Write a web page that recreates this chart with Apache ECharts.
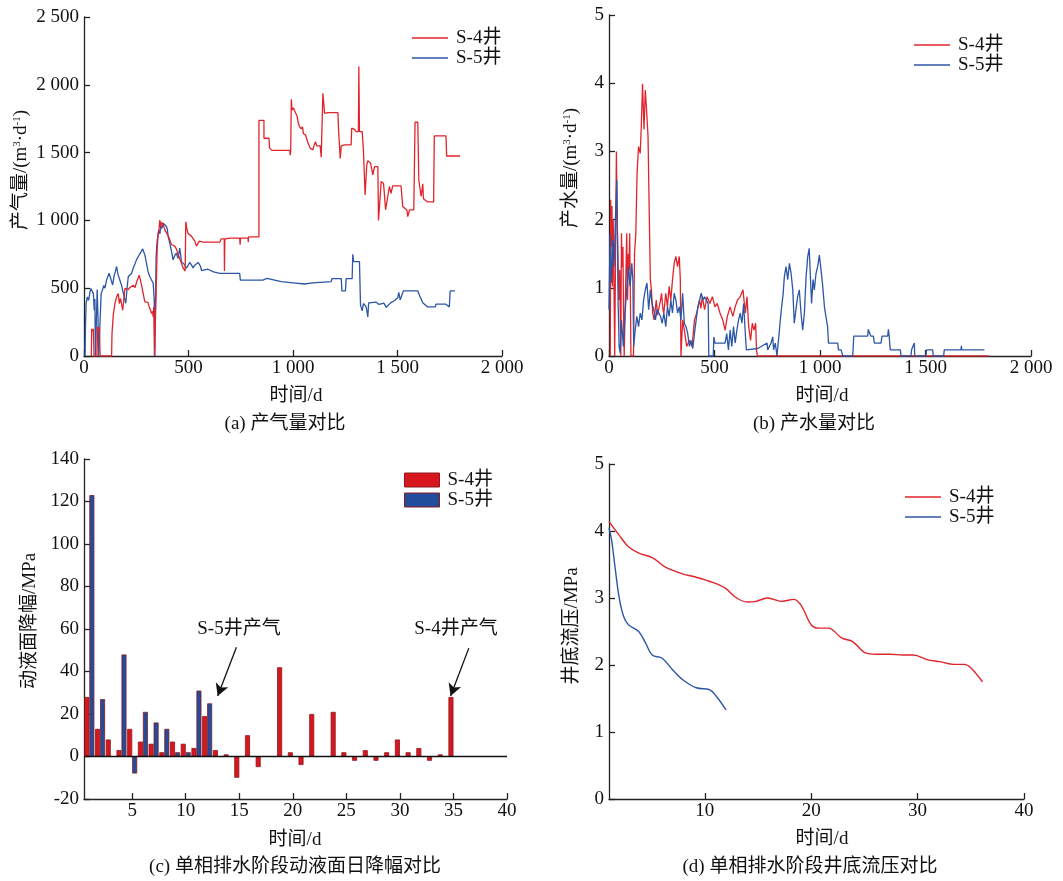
<!DOCTYPE html>
<html>
<head>
<meta charset="utf-8">
<title>S-4 / S-5 对比</title>
<script src="https://cdn.jsdelivr.net/npm/echarts@6/dist/echarts.min.js"></script>
<style>
  html, body { margin: 0; padding: 0; background: #fff; }
  #chart { width: 1063px; height: 881px; }
</style>
</head>
<body>
<div id="chart"></div>
<script>
// ---- data ----
const wellNames = ['S-4井', 'S-5井'];

// (a) 产气量, [day, m3/d]
const gasS4 = [
  [35, 0], [37, 200], [41, 185], [45, 200], [48, 0], [62, 0], [65, 215], [70, 190], [74, 210], [77, 0],
  [132, 0], [134, 165], [140, 300], [148, 387], [156, 436], [164, 460], [169, 387], [175, 424], [185, 337],
  [196, 499], [204, 510], [212, 490], [220, 505], [228, 500], [236, 522], [244, 505], [252, 547], [258, 570],
  [264, 596], [272, 547], [280, 485], [291, 399], [299, 387], [306, 395], [312, 362], [318, 340], [323, 313],
  [328, 330], [331, 288], [334, 362], [337, 0], [342, 0], [344, 400], [350, 781], [355, 900], [359, 941],
  [363, 1002], [367, 950], [371, 985], [379, 970], [387, 930], [395, 921], [403, 884], [410, 860], [418, 822],
  [426, 830], [434, 810], [442, 790], [450, 749], [458, 760], [466, 687], [474, 650], [479, 638], [484, 626],
  [487, 990], [492, 940], [498, 903], [506, 910], [514, 884], [522, 870], [530, 847], [538, 810], [545, 830],
  [552, 847], [560, 835], [570, 840], [600, 840], [650, 840], [657, 864], [671, 864], [672, 626], [674, 864],
  [700, 870], [745, 870], [747, 820], [749, 870], [785, 870], [786, 840], [787, 878], [837, 878],
  [837, 1737], [861, 1737], [861, 1606], [885, 1606], [888, 1533], [901, 1516], [933, 1516], [985, 1516],
  [987, 1480], [989, 1516], [992, 1894], [995, 1830], [997, 1815], [1003, 1830], [1007, 1810], [1013, 1790],
  [1019, 1773], [1025, 1720], [1031, 1692], [1039, 1675], [1045, 1690], [1050, 1640], [1060, 1630],
  [1070, 1580], [1082, 1533], [1095, 1520], [1100, 1550], [1108, 1581], [1113, 1550], [1130, 1550],
  [1135, 1466], [1140, 1466], [1143, 1938], [1148, 1850], [1151, 1790], [1167, 1795], [1215, 1795],
  [1218, 1667], [1226, 1457], [1231, 1550], [1246, 1557], [1278, 1557], [1281, 1680], [1294, 1672],
  [1302, 1655], [1313, 1655], [1315, 2135], [1318, 1655], [1331, 1655], [1337, 1516], [1345, 1187],
  [1350, 1187], [1353, 1410], [1358, 1441], [1371, 1422], [1382, 1336], [1390, 1397], [1406, 1397],
  [1409, 1000], [1418, 1000], [1422, 1286], [1433, 1274], [1437, 1200], [1443, 1078], [1450, 1078],
  [1461, 1250], [1469, 1200], [1477, 1254], [1517, 1254], [1525, 1102], [1545, 1077], [1549, 1028],
  [1555, 1060], [1557, 1077], [1578, 1077], [1584, 1724], [1597, 1724], [1602, 1298], [1613, 1176],
  [1621, 1270], [1624, 1160], [1644, 1136], [1673, 1136], [1676, 1623], [1732, 1623], [1735, 1475],
  [1799, 1475]
];
const gasS5 = [
  [5, 0], [7, 214], [10, 387], [16, 436], [22, 411], [29, 473], [33, 498], [37, 498], [41, 485], [45, 460],
  [49, 337], [52, 420], [55, 0], [60, 0], [63, 490], [67, 280], [70, 0], [74, 0], [78, 300], [82, 460],
  [88, 487], [95, 520], [100, 500], [108, 560], [116, 549], [120, 610], [124, 598], [130, 560], [137, 524],
  [145, 600], [150, 620], [156, 660], [163, 600], [172, 586], [180, 520], [188, 463], [195, 420], [200, 389],
  [206, 500], [212, 586], [220, 600], [228, 610], [236, 650], [244, 680], [251, 709], [258, 720], [266, 750],
  [275, 758], [281, 790], [286, 787], [292, 740], [299, 684], [307, 620], [315, 586], [323, 560], [331, 536],
  [336, 413], [339, 0], [343, 0], [345, 733], [350, 850], [355, 905], [359, 930], [363, 900], [368, 960],
  [372, 940], [379, 979], [387, 970], [395, 955], [399, 930], [403, 881], [409, 840], [414, 807], [420, 760],
  [426, 709], [434, 740], [442, 758], [450, 720], [458, 795], [462, 750], [466, 696], [474, 690], [482, 672],
  [490, 647], [498, 660], [506, 690], [514, 672], [522, 650], [530, 670], [538, 660], [546, 690], [554, 696],
  [558, 660], [562, 630], [593, 640], [600, 630], [620, 620], [649, 609], [745, 609], [748, 560], [856, 560],
  [860, 572], [875, 572], [880, 560], [944, 548], [1000, 540], [1055, 531], [1095, 540], [1183, 548],
  [1186, 570], [1231, 570], [1234, 480], [1251, 480], [1254, 570], [1283, 570], [1286, 750], [1290, 696],
  [1318, 696], [1323, 375], [1331, 333], [1337, 387], [1350, 362], [1355, 360], [1358, 288], [1362, 392],
  [1398, 397], [1411, 380], [1435, 390], [1446, 359], [1467, 392], [1475, 380], [1486, 409], [1501, 429],
  [1506, 470], [1513, 414], [1522, 414], [1528, 480], [1597, 480], [1605, 448], [1621, 392], [1644, 362],
  [1681, 362], [1684, 382], [1732, 382], [1748, 362], [1752, 480], [1775, 480]
];

// (b) 产水量, [day, m3/d]
const waterS4 = [
  [6, 0], [8, 2.29], [11, 1.6], [14, 2.2], [16, 1.02], [20, 2.0], [23, 1.2], [27, 0], [31, 1.5], [35, 3.0],
  [38, 2.2], [40, 1.8], [44, 1.2], [47, 0.82], [51, 1.26], [54, 0.5], [56, 0], [59, 1.8], [62, 1.3], [66, 1.6],
  [69, 0.6], [72, 0], [80, 0], [84, 1.8], [88, 0.82], [92, 1.5], [95, 1.26], [98, 1.8], [101, 1.0], [104, 0],
  [116, 0], [121, 1.5], [127, 1.8], [133, 2.68], [140, 3.07], [148, 2.97], [153, 3.37], [159, 3.99],
  [163, 3.6], [166, 3.32], [172, 3.9], [178, 3.61], [185, 3.22], [191, 2.04], [196, 1.12], [201, 0.97],
  [207, 0.63], [214, 0.53], [224, 0.82], [230, 0.6], [236, 0.58], [243, 0.8], [249, 0.92], [255, 0.7],
  [260, 0.63], [269, 0.92], [277, 0.72], [285, 1.02], [293, 0.82], [301, 1.12], [309, 1.36], [317, 1.46],
  [325, 1.31], [333, 1.46], [338, 1.12], [341, 0], [349, 0.53], [357, 0.38], [368, 0.14], [381, 0.23],
  [394, 0.14], [405, 0.53], [416, 0.63], [429, 0.82], [436, 0.7], [442, 0.87], [453, 0.68], [465, 0.87],
  [478, 0.77], [490, 0.87], [502, 0.72], [513, 0.77], [526, 0.63], [539, 0.53], [550, 0.38], [561, 0.58],
  [574, 0.72], [587, 0.58], [598, 0.72], [609, 0.82], [622, 0.87], [635, 0.97], [646, 0.63], [654, 0.87],
  [662, 0.43], [671, 0.23], [679, 0.48], [687, 0.38], [695, 0.48], [699, 0.09], [703, 0], [1800, 0]
];
const waterS5 = [
  [0, 0.68], [5, 1.8], [11, 1.07], [18, 1.7], [24, 1.31], [31, 2.09], [37, 2.58], [40, 1.8], [43, 0.82],
  [48, 0.14], [53, 0.04], [59, 0.53], [68, 0.14], [76, 0.63], [84, 0.97], [92, 1.31], [100, 1.02], [108, 1.36],
  [113, 1.12], [117, 0.14], [124, 0.38], [132, 0.58], [140, 0.43], [148, 0.63], [156, 0.53], [164, 0.82],
  [172, 0.97], [180, 1.07], [188, 0.68], [196, 0.97], [204, 0.77], [212, 0.68], [220, 0.53], [228, 0.68],
  [236, 0.63], [244, 0.58], [252, 0.48], [260, 0.63], [269, 0.43], [277, 0.72], [285, 0.58], [293, 0.82],
  [301, 0.63], [309, 0.92], [317, 0.82], [325, 0.63], [333, 0.72], [341, 0.53], [349, 0.92], [357, 0.48],
  [365, 0.43], [373, 0.33], [381, 0.14], [389, 0.23], [397, 0.11], [405, 0.33], [413, 0.53], [421, 0.72],
  [429, 0.82], [437, 0.92], [445, 0.82], [453, 0.87], [461, 0.82], [470, 0.77], [473, 0], [494, 0],
  [497, 0.28], [502, 0.19], [550, 0.19], [558, 0.33], [566, 0.09], [574, 0.38], [582, 0.14], [590, 0.43],
  [598, 0.19], [606, 0.38], [614, 0.53], [622, 0.63], [630, 0.48], [638, 0.77], [646, 0.33], [651, 0.09],
  [705, 0.11], [712, 0.09], [749, 0.19], [752, 0.09], [768, 0.19], [776, 0.28], [780, 0.09], [788, 0.19],
  [796, 0], [802, 0.19], [812, 0.53], [818, 0.72], [825, 0.9], [831, 1.16], [839, 1.31], [847, 1.12],
  [855, 1.36], [863, 1.21], [871, 0.97], [878, 0.48], [886, 0.68], [894, 0.87], [902, 0.97], [910, 0.63],
  [918, 0.38], [926, 0.63], [934, 1.16], [942, 1.46], [949, 1.58], [954, 1.2], [960, 0.77], [967, 1.12],
  [973, 0.97], [981, 1.21], [989, 1.31], [997, 1.48], [1005, 1.26], [1013, 1.02], [1021, 0.72], [1028, 0.58],
  [1036, 0.43], [1040, 0.19], [1084, 0.19], [1087, 0.09], [1100, 0.09], [1108, 0], [1155, 0], [1160, 0.29],
  [1226, 0.29], [1229, 0.39], [1238, 0.39], [1241, 0.29], [1253, 0.29], [1258, 0.19], [1289, 0.19],
  [1294, 0.29], [1321, 0.29], [1324, 0.39], [1328, 0.29], [1333, 0.09], [1381, 0.09], [1384, 0], [1431, 0],
  [1434, 0.09], [1447, 0.19], [1449, 0], [1502, 0], [1505, 0.09], [1534, 0.09], [1537, 0], [1586, 0],
  [1589, 0.09], [1668, 0.09], [1670, 0.15], [1672, 0.09], [1779, 0.09]
];

// (c) 单相排水阶段动液面日降幅
const days = [1, 2, 3, 4, 5, 6, 7, 8, 9, 10, 11, 12, 13, 14, 15, 16, 17, 18, 19, 20,
  21, 22, 23, 24, 25, 26, 27, 28, 29, 30, 31, 32, 33, 34, 35];
const dropS4 = [28, 13, 8, 3, 13, 7, 6, 2, 7, 6, 4, 19, 3, 1, -10, 10, -5, null, 42, 2,
  -4, 20, null, 21, 2, -2, 3, -2, 2, 8, 2, 4, -2, 1, 28];
const dropS5 = [123, 27, null, 48, -8, 21, 16, 13, 2, 2, 31, 25];
const dayTicksC = [5, 10, 15, 20, 25, 30, 35, 40];

// (d) 单相排水阶段井底流压, [day, MPa]
const bhpS4 = [
  [1.0, 4.14], [1.9, 3.95], [2.8, 3.77], [3.8, 3.67], [5.1, 3.6], [6.3, 3.46], [7.9, 3.36], [9.2, 3.31],
  [10.8, 3.23], [11.9, 3.15], [13.0, 3.0], [14.0, 2.94], [14.8, 2.95], [15.9, 3.0], [17.2, 2.95],
  [18.4, 2.98], [19.1, 2.88], [20.0, 2.6], [20.7, 2.55], [21.6, 2.55], [22.9, 2.4], [23.9, 2.35],
  [25.1, 2.18], [26.1, 2.16], [27.4, 2.16], [28.6, 2.15], [29.6, 2.15], [30.9, 2.08], [32.1, 2.05],
  [33.4, 2.01], [34.4, 2.01], [35.0, 1.96], [36.1, 1.75]
];
const bhpS5 = [
  [1.0, 4.04], [1.24, 3.87], [1.56, 3.47], [1.94, 3.02], [2.36, 2.73], [2.83, 2.6], [3.79, 2.5],
  [4.43, 2.33], [5.06, 2.15], [6.0, 2.1], [6.97, 1.93], [7.93, 1.78], [9.2, 1.66], [10.48, 1.63],
  [11.1, 1.53], [12.0, 1.33]
];
const dayTicksD = [10, 20, 30, 40];

const captions = ['(a) 产气量对比', '(b) 产水量对比', '(c) 单相排水阶段动液面日降幅对比', '(d) 单相排水阶段井底流压对比'];

// ---- styling ----
const FONT = "'Liberation Serif', 'Noto Sans CJK SC', serif";
const RED = '#e1242c';
const BLUE = '#2c56a6';
const BAR_RED = '#d8161e';
const BAR_BLUE = '#224d9c';
const BAR_EDGE = '#8a1a20';

function spaced(v) {
  return v >= 1000 ? String(v).replace(/(\d)(\d{3})$/, '$1 $2') : String(v);
}

function axis(extra) {
  const base = {
    type: 'value',
    axisLine: { onZero: false, lineStyle: { color: '#222', width: 1.3 } },
    axisTick: { inside: true, length: 6, lineStyle: { color: '#222', width: 1.3 } },
    axisLabel: { color: '#111', fontSize: 19, fontFamily: FONT },
    splitLine: { show: false }
  };
  const out = Object.assign({}, base, extra);
  out.axisLabel = Object.assign({}, base.axisLabel, extra.axisLabel || {});
  out.axisTick = Object.assign({}, base.axisTick, extra.axisTick || {});
  return out;
}

// line legends: a flat rect reads as a line sample
function legendAt(left, top, data, w, h) {
  return {
    left: left, top: top, orient: 'vertical', padding: 0,
    icon: 'rect', itemWidth: w || 36, itemHeight: h || 1.6, itemGap: 0,
    data: data,
    textStyle: { fontSize: 19, fontFamily: FONT, color: '#111', lineHeight: 20, padding: [0, 0, 0, 3] }
  };
}

function label(x, y, text, rotate, rich) {
  return {
    type: 'text', x: x, y: y, rotation: rotate ? Math.PI / 2 : 0,
    style: {
      text: text, fill: '#111', fontSize: 19, fontFamily: FONT,
      align: 'center', verticalAlign: 'middle', rich: rich
    }
  };
}

const sup = { sup: { fontSize: 11, fontFamily: FONT, verticalAlign: 'top', fill: '#111' } };

const chart = echarts.init(document.getElementById('chart'));

const option = {
  backgroundColor: '#fff',
  animation: false,
  grid: [
    { left: 84, top: 17, width: 418, height: 339 },
    { left: 609, top: 15, width: 422, height: 341 },
    { left: 84, top: 459, width: 423, height: 340 },
    { left: 609, top: 464, width: 415, height: 335 }
  ],
  xAxis: [
    axis({ gridIndex: 0, min: 0, max: 2000, interval: 500, axisLabel: { margin: 3, formatter: spaced } }),
    axis({ gridIndex: 1, min: 0, max: 2000, interval: 500, axisLabel: { margin: 3, formatter: spaced } }),
    axis({ gridIndex: 2, min: 0.5, max: 40,
      axisTick: { customValues: dayTicksC }, axisLabel: { margin: 3, customValues: dayTicksC } }),
    axis({ gridIndex: 3, min: 1, max: 40,
      axisTick: { customValues: dayTicksD }, axisLabel: { margin: 3, customValues: dayTicksD } })
  ],
  yAxis: [
    axis({ gridIndex: 0, min: 0, max: 2500, interval: 500, axisLabel: { margin: 5, formatter: spaced } }),
    axis({ gridIndex: 1, min: 0, max: 5, interval: 1, axisLabel: { margin: 5 } }),
    axis({ gridIndex: 2, min: -20, max: 140, interval: 20, axisLabel: { margin: 5 } }),
    axis({ gridIndex: 3, min: 0, max: 5, interval: 1, axisLabel: { margin: 5 } })
  ],
  legend: [
    legendAt(412, 28, wellNames),
    legendAt(914, 35, wellNames),
    legendAt(404, 470, [
      { name: wellNames[0], itemStyle: { color: BAR_RED, borderColor: BAR_EDGE, borderWidth: 1 } },
      { name: wellNames[1], itemStyle: { color: BAR_BLUE, borderColor: BAR_EDGE, borderWidth: 1 } }
    ], 35, 14),
    legendAt(905, 487, wellNames)
  ],
  series: [
    { name: wellNames[0], type: 'line', xAxisIndex: 0, yAxisIndex: 0, data: gasS4, symbol: 'none',
      lineStyle: { color: RED, width: 1.3 }, itemStyle: { color: RED }, z: 3 },
    { name: wellNames[1], type: 'line', xAxisIndex: 0, yAxisIndex: 0, data: gasS5, symbol: 'none',
      lineStyle: { color: BLUE, width: 1.3 }, itemStyle: { color: BLUE }, z: 2 },
    { name: wellNames[0], type: 'line', xAxisIndex: 1, yAxisIndex: 1, data: waterS4, symbol: 'none',
      lineStyle: { color: RED, width: 1.3 }, itemStyle: { color: RED }, z: 2 },
    { name: wellNames[1], type: 'line', xAxisIndex: 1, yAxisIndex: 1, data: waterS5, symbol: 'none',
      lineStyle: { color: BLUE, width: 1.3 }, itemStyle: { color: BLUE }, z: 3 },
    { name: wellNames[0], type: 'bar', xAxisIndex: 2, yAxisIndex: 2,
      data: days.map((d, i) => [d, dropS4[i]]).filter(p => p[1] !== null),
      barWidth: 5, barGap: '0%',
      itemStyle: { color: BAR_RED, borderColor: BAR_EDGE, borderWidth: 0.8 },
      markLine: {
        silent: true, symbol: 'none', label: { show: false },
        lineStyle: { color: '#111', width: 1.3, type: 'solid' },
        data: [{ yAxis: 0 }]
      } },
    { name: wellNames[1], type: 'bar', xAxisIndex: 2, yAxisIndex: 2,
      data: days.slice(0, dropS5.length).map((d, i) => [d, dropS5[i]]).filter(p => p[1] !== null),
      barWidth: 5, barGap: '0%',
      itemStyle: { color: BAR_BLUE, borderColor: BAR_EDGE, borderWidth: 0.8 },
      markLine: {
        silent: true, symbol: ['none', 'arrow'], symbolSize: [10, 12], label: { show: false },
        lineStyle: { color: '#111', width: 1.3, type: 'solid' },
        data: [
          [{ coord: [14.5, 51.4] }, { coord: [12.75, 28.5] }],
          [{ coord: [36.2, 51.0] }, { coord: [34.5, 28.5] }]
        ]
      } },
    { name: wellNames[0], type: 'line', xAxisIndex: 3, yAxisIndex: 3, data: bhpS4, symbol: 'none',
      smooth: 0.35, lineStyle: { color: RED, width: 1.4 }, itemStyle: { color: RED } },
    { name: wellNames[1], type: 'line', xAxisIndex: 3, yAxisIndex: 3, data: bhpS5, symbol: 'none',
      smooth: 0.35, lineStyle: { color: BLUE, width: 1.4 }, itemStyle: { color: BLUE } }
  ],
  graphic: [
    label(296, 396, '时间/d'),
    label(822, 396, '时间/d'),
    label(295, 840, '时间/d'),
    label(822, 839, '时间/d'),
    label(285, 424, captions[0]),
    label(814, 424, captions[1]),
    label(295, 867, captions[2]),
    label(810, 867, captions[3]),
    label(21, 170, '产气量/(m{sup|3}·d{sup|-1})', true, sup),
    label(571, 168, '产水量/(m{sup|3}·d{sup|-1})', true, sup),
    label(30, 621, '动液面降幅/MPa', true),
    label(572, 626, '井底流压/MPa', true),
    label(239, 629, 'S-5井产气'),
    label(456, 629, 'S-4井产气')
  ]
};

chart.setOption(option);
</script>
</body>
</html>
